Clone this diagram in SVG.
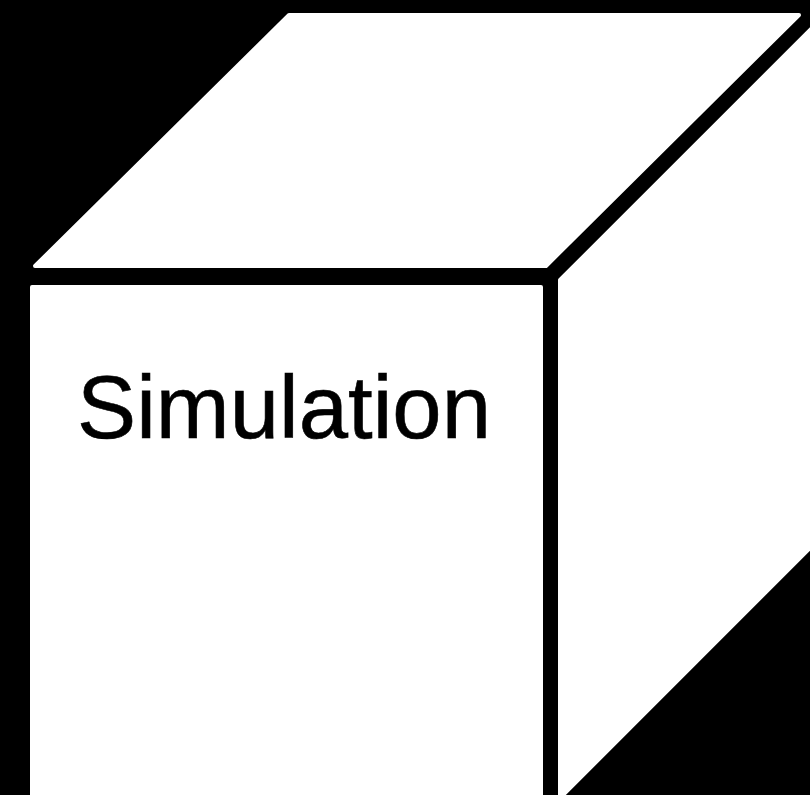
<svg xmlns="http://www.w3.org/2000/svg" width="810" height="795" viewBox="0 0 810 795">
<style>
.face{fill:#ffffff;stroke:#ffffff;stroke-width:4;stroke-linejoin:round}
.lbl{font-family:"Liberation Sans",Arial,Helvetica,sans-serif;font-size:89px;fill:#000000;stroke:#000000;stroke-width:0.6}
</style>
<rect x="0" y="0" width="810" height="795" fill="#000000"/>
<g id="cube">
<g id="top-face"><polygon class="face" points="289,15 799,15 546,266 35,266"/></g>
<g id="front-face"><polygon class="face" points="32,287 541,287 541,800 32,800"/></g>
<g id="right-face"><polygon class="face" points="560,280 812,28 812,546 561,797 560,797"/></g>
</g>
<g id="label"><text class="lbl" x="77" y="438" textLength="414" lengthAdjust="spacingAndGlyphs">Simulation</text></g>
</svg>
